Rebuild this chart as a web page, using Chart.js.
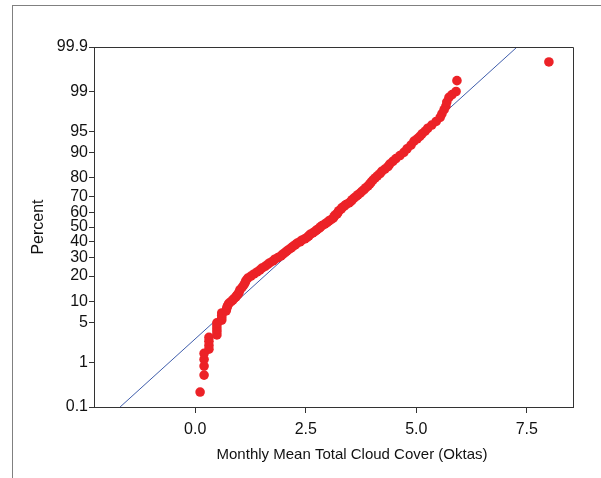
<!doctype html>
<html>

<head>
	<title>Normal Probability Plot</title>
	<script src="https://cdn.jsdelivr.net/npm/chart.js"></script>
	<style>
	body {
		margin: 0;
		background: #fff;
	}
	.wrap {
		position: relative;
		width: 601px;
		height: 478px;
	}
	.frame {
		position: absolute;
		left: 12px;
		top: 5px;
		right: 0;
		bottom: 0;
		border-top: 1px solid #808080;
		border-left: 1px solid #808080;
	}
	canvas {
		position: absolute;
		left: 0;
		top: 0;
	}
	</style>
</head>

<body>
	<div class="wrap">
		<div class="frame"></div>
		<canvas id="chart" width="601" height="478"></canvas>
	</div>
	<script>
		// sorted monthly means (oktas) and their plotted percent
		var cloudCover = [
			0.11, 0.20, 0.20, 0.20, 0.20, 0.31, 0.31, 0.31, 0.31, 0.49,
			0.49, 0.49, 0.49, 0.49, 0.60, 0.60, 0.60, 0.60, 0.70, 0.71,
			0.72, 0.74, 0.76, 0.81, 0.85, 0.88, 0.92, 0.94, 0.97, 0.99,
			1.01, 1.06, 1.10, 1.13, 1.15, 1.19, 1.26, 1.33, 1.40, 1.46,
			1.51, 1.58, 1.64, 1.69, 1.76, 1.80, 1.87, 1.94, 1.98, 2.03,
			2.07, 2.12, 2.17, 2.21, 2.26, 2.30, 2.37, 2.41, 2.48, 2.53,
			2.57, 2.60, 2.66, 2.71, 2.75, 2.80, 2.83, 2.87, 2.93, 2.98,
			3.02, 3.07, 3.12, 3.14, 3.16, 3.21, 3.23, 3.25, 3.30, 3.32,
			3.37, 3.41, 3.48, 3.52, 3.55, 3.59, 3.64, 3.68, 3.73, 3.77,
			3.82, 3.86, 3.91, 3.95, 3.98, 4.02, 4.07, 4.12, 4.18, 4.22,
			4.29, 4.36, 4.40, 4.47, 4.54, 4.63, 4.72, 4.79, 4.88, 4.95,
			5.02, 5.08, 5.13, 5.20, 5.26, 5.35, 5.45, 5.54, 5.58, 5.63,
			5.67, 5.69, 5.74, 5.81, 5.90, 5.92, 8.00
		];
		var percent = [
			0.23, 0.55, 0.85, 1.15, 1.5, 1.8, 2.1, 2.5, 2.9, 3.2,
			3.6, 4.0, 4.5, 5.0, 5.5, 6.0, 6.5, 7.0, 7.5, 8.0,
			8.5, 9.0, 9.5, 10, 10.5, 11, 11.5, 12, 12.5, 13,
			14, 15, 16, 17, 18, 19, 20, 21, 22, 23,
			24, 25, 26, 27, 28, 29, 30, 31, 32, 33,
			34, 35, 36, 37, 38, 39, 40, 41, 42, 43,
			44, 45, 46, 47, 48, 49, 50, 51, 52, 53,
			54, 55, 56, 57, 58, 59, 60, 61, 62, 63,
			64, 65, 66, 67, 68, 69, 70, 71, 72, 73,
			74, 75, 76, 77, 78, 79, 80, 81, 82, 83,
			84, 85, 86, 87, 88, 89, 90, 91, 92, 93,
			93.5, 94, 94.5, 95, 95.5, 96, 96.5, 97, 97.4, 97.8,
			98.1, 98.4, 98.7, 98.85, 99.0, 99.4, 99.77
		];

		// fitted normal reference line (end points)
		var fitCover = [-1.70, 7.28];
		var fitPercent = [0.1, 99.9];

		var percentTicks = [0.1, 1, 5, 10, 20, 30, 40, 50, 60, 70, 80, 90, 95, 99, 99.9];
		var coverTicks = [0, 2.5, 5, 7.5];

		var fontName = '"Liberation Sans", Arial, sans-serif';

		// inverse normal cdf, percent in, z out
		function probit(pct) {
			var q = pct / 100;
			var a = [-3.969683028665376e+01, 2.209460984245205e+02, -2.759285104469687e+02, 1.383577518672690e+02, -3.066479806614716e+01, 2.506628277459239e+00];
			var b = [-5.447609879822406e+01, 1.615858368580409e+02, -1.556989798598866e+02, 6.680131188771972e+01, -1.328068155288572e+01];
			var c = [-7.784894002430293e-03, -3.223964580411365e-01, -2.400758277161838e+00, -2.549732539343734e+00, 4.374664141464968e+00, 2.938163982698783e+00];
			var d = [7.784695709041462e-03, 3.224671290700398e-01, 2.445134137142996e+00, 3.754408661907416e+00];
			var pl = 0.02425, t, r;
			if (q < pl) {
				t = Math.sqrt(-2 * Math.log(q));
				return (((((c[0] * t + c[1]) * t + c[2]) * t + c[3]) * t + c[4]) * t + c[5]) / ((((d[0] * t + d[1]) * t + d[2]) * t + d[3]) * t + 1);
			}
			if (q > 1 - pl) {
				t = Math.sqrt(-2 * Math.log(1 - q));
				return -(((((c[0] * t + c[1]) * t + c[2]) * t + c[3]) * t + c[4]) * t + c[5]) / ((((d[0] * t + d[1]) * t + d[2]) * t + d[3]) * t + 1);
			}
			t = q - 0.5;
			r = t * t;
			return (((((a[0] * r + a[1]) * r + a[2]) * r + a[3]) * r + a[4]) * r + a[5]) * t / (((((b[0] * r + b[1]) * r + b[2]) * r + b[3]) * r + b[4]) * r + 1);
		}

		// probability scale: linear in z, values given in percent
		class ProbabilityScale extends Chart.LinearScale {
			configure() {
				super.configure();
				this._zStart = probit(this.min);
				this._zRange = probit(this.max) - this._zStart;
			}
			buildTicks() {
				return percentTicks.map(function(v) { return {value: v}; });
			}
			getPixelForValue(value) {
				return this.getPixelForDecimal((probit(value) - this._zStart) / this._zRange);
			}
		}
		ProbabilityScale.id = 'probability';
		ProbabilityScale.defaults = Chart.LinearScale.defaults;
		Chart.register(ProbabilityScale);

		var boxPlugin = {
			id: 'box',
			afterDraw: function(chart) {
				var ctx = chart.ctx;
				var a = chart.chartArea;
				ctx.save();
				ctx.strokeStyle = '#333';
				ctx.lineWidth = 1;
				ctx.beginPath();
				ctx.moveTo(Math.round(a.left) + 0.5, Math.round(a.top) + 0.5);
				ctx.lineTo(Math.round(a.right) + 0.5, Math.round(a.top) + 0.5);
				ctx.lineTo(Math.round(a.right) + 0.5, Math.round(a.bottom) + 0.5);
				ctx.stroke();
				ctx.fillStyle = '#111';
				ctx.font = '15px ' + fontName;
				ctx.textAlign = 'center';
				ctx.textBaseline = 'middle';
				ctx.fillText('Monthly Mean Total Cloud Cover (Oktas)', 352, 455);
				ctx.restore();
			}
		};

		window.onload = function() {
			var points = cloudCover.map(function(v, i) {
				return {x: v, y: percent[i]};
			});
			var fit = fitCover.map(function(v, i) {
				return {x: v, y: fitPercent[i]};
			});

			var ctx = document.getElementById('chart').getContext('2d');
			new Chart(ctx, {
				type: 'scatter',
				data: {
					datasets: [{
						label: 'Cloud cover',
						data: points,
						backgroundColor: '#EC2227',
						borderColor: '#EC2227',
						borderWidth: 0,
						pointRadius: 4.8,
						order: 0
					}, {
						type: 'line',
						label: 'Fit',
						data: fit,
						borderColor: '#3F5DAB',
						borderWidth: 1,
						pointRadius: 0,
						fill: false,
						order: 1
					}]
				},
				options: {
					responsive: false,
					animation: false,
					layout: {
						padding: {top: 47, right: 28, left: 0, bottom: 0}
					},
					plugins: {
						legend: {display: false},
						tooltip: {enabled: false}
					},
					scales: {
						x: {
							type: 'linear',
							min: -2.29,
							max: 8.545,
							afterBuildTicks: function(scale) {
								scale.ticks = coverTicks.map(function(v) { return {value: v}; });
							},
							afterFit: function(scale) {
								scale.height = 71;
							},
							grid: {
								drawOnChartArea: false,
								tickLength: 6,
								color: '#333'
							},
							border: {color: '#333'},
							ticks: {
								padding: 7,
								color: '#111',
								font: {family: fontName, size: 16},
								callback: function(v) { return Number(v).toFixed(1); }
							}
						},
						y: {
							type: 'probability',
							min: 0.1,
							max: 99.9,
							afterFit: function(scale) {
								scale.width = 94;
							},
							grid: {
								drawOnChartArea: false,
								tickLength: 5,
								color: '#333'
							},
							border: {color: '#333'},
							ticks: {
								padding: 1,
								color: '#111',
								font: {family: fontName, size: 16},
								callback: function(v) { return String(v); }
							},
							title: {
								display: true,
								text: 'Percent',
								color: '#111',
								font: {family: fontName, size: 16},
								padding: {top: 29, bottom: 0}
							}
						}
					}
				},
				plugins: [boxPlugin]
			});
		};
	</script>
</body>

</html>
